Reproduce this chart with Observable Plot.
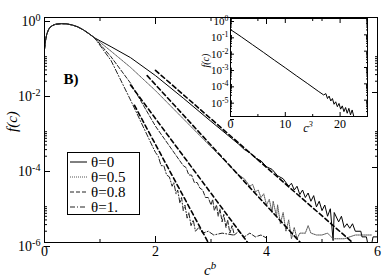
<!DOCTYPE html>
<html><head><meta charset="utf-8">
<script src="https://cdn.jsdelivr.net/npm/d3@7"></script>
<script src="https://cdn.jsdelivr.net/npm/@observablehq/plot@0.6"></script>
<style>
body{margin:0;background:#fff}
#wrap{position:relative;width:382px;height:277px}
#inset{position:absolute;left:205px;top:16px}
svg text{font-family:"Liberation Serif","DejaVu Serif",serif}
</style>
</head><body><div id="wrap"></div><div id="inset"></div>
<script>
// ---------- data (log10 f) ----------
const thetas = ["θ=0", "θ=0.5", "θ=0.8", "θ=1."];

const headC   = [0, 0.01, 0.02, 0.04, 0.07, 0.1, 0.15, 0.2, 0.3, 0.4, 0.5, 0.6, 0.7, 0.8, 0.9];
const headLog = [-0.85, -0.72, -0.6, -0.45, -0.33, -0.26, -0.21, -0.18, -0.165, -0.17, -0.2, -0.25, -0.33, -0.43, -0.54];

const c0   = [1.2, 1.55, 2.0, 2.5, 3.0, 3.5, 3.6, 3.7, 3.8, 3.9, 4.0, 4.1, 4.2, 4.3, 4.4, 4.45, 4.5, 4.55, 4.6, 4.65, 4.7, 4.75, 4.8, 4.85, 4.9, 4.95, 5.0, 5.05, 5.1, 5.15, 5.2, 5.22, 5.3, 5.35, 5.4, 5.45, 5.5, 5.55, 5.6, 5.7, 5.72, 5.8, 5.82, 5.9, 5.92, 6.0];
const log0 = [-0.78, -1.07, -1.55, -2.15, -2.77, -3.38, -3.52, -3.6, -3.75, -3.82, -3.98, -4.05, -4.22, -4.3, -4.5, -4.42, -4.6, -4.5, -4.72, -4.6, -4.8, -4.68, -4.9, -4.75, -5.05, -4.9, -5.15, -5.0, -5.3, -5.1, -5.95, -5.2, -5.45, -5.3, -5.6, -5.5, -5.62, -5.5, -5.7, -5.7, -5.85, -5.85, -6.0, -6.0, -5.85, -5.85];

const c05   = [1.2, 1.55, 2.0, 2.5, 3.0, 3.3, 3.5, 3.6, 3.7, 3.75, 3.8, 3.85, 3.9, 3.95, 4.0, 4.05, 4.1, 4.12, 4.18, 4.2, 4.25, 4.3, 4.35, 4.4, 4.45, 4.5, 4.55, 4.6, 4.7, 4.75, 4.8, 4.9, 5.0, 5.1, 5.2, 5.4, 5.6, 5.9];
const log05 = [-0.9, -1.33, -1.95, -2.7, -3.45, -3.9, -4.2, -4.3, -4.5, -4.45, -4.65, -4.6, -4.8, -4.7, -5.0, -4.85, -5.2, -4.9, -5.3, -5.0, -5.5, -5.2, -5.7, -5.4, -5.9, -5.6, -5.9, -5.75, -5.75, -5.55, -5.75, -5.8, -5.8, -5.75, -5.9, -5.9, -5.8, -5.8];

const c08   = [1.2, 1.55, 2.0, 2.5, 2.55, 2.6, 2.65, 2.7, 2.75, 2.8, 2.85, 2.9, 2.95, 3.0, 3.03, 3.06, 3.1, 3.13, 3.16, 3.2, 3.23, 3.27, 3.3, 3.34, 3.38, 3.42, 3.5, 3.6, 3.7, 3.8, 3.9, 4.0];
const log08 = [-1.05, -1.75, -2.9, -3.95, -4.0, -4.2, -4.2, -4.4, -4.4, -4.55, -4.6, -4.8, -4.8, -5.0, -4.85, -5.15, -5.0, -5.3, -5.1, -5.45, -5.25, -5.6, -5.4, -5.75, -5.55, -5.8, -5.7, -5.85, -5.75, -5.85, -5.8, -5.88];

const c1   = [1.2, 1.55, 1.95, 2.0, 2.05, 2.1, 2.15, 2.2, 2.25, 2.3, 2.33, 2.37, 2.4, 2.44, 2.47, 2.5, 2.53, 2.57, 2.6, 2.64, 2.68, 2.72, 2.78, 2.85, 2.95, 3.05, 3.2, 3.4];
const log1 = [-1.15, -2.2, -3.45, -3.6, -3.7, -3.95, -3.95, -4.2, -4.25, -4.5, -4.4, -4.7, -4.6, -4.95, -4.8, -5.15, -5.0, -5.35, -5.2, -5.55, -5.4, -5.7, -5.6, -5.75, -5.7, -5.8, -5.75, -5.8];

// dashed asymptotes: [start, end]
const asymC   = [[2.0, 5.55], [1.85, 4.61], [1.55, 3.66], [1.62, 2.95]];
const asymLog = [[-1.41, -6], [-1.55, -6], [-1.8, -6], [-2.34, -6]];

// inset
const insetC3  = [0, 1, 2, 4, 6, 8, 10, 12, 14, 16, 17, 17.4, 17.7, 18, 18.3, 18.6, 18.9, 19.2, 19.5, 19.8, 20.1, 20.4, 20.7, 21.0, 21.3, 21.6, 21.9, 22.2, 22.5];
const insetLog = [-0.68, -0.9, -1.13, -1.6, -2.07, -2.55, -3.02, -3.5, -3.97, -4.45, -4.68, -4.6, -4.9, -4.75, -5.05, -4.9, -5.25, -5.1, -5.4, -5.2, -5.55, -5.35, -5.7, -5.45, -5.8, -5.5, -5.9, -5.6, -6.0];

// ticks
const mainXMajor = [0, 2, 4, 6], mainXMinor = [1, 3, 5];
const mainYMajor = [1, 1e-2, 1e-4, 1e-6];
const mainYLabels = ["10^0", "10^-2", "10^-4", "10^-6"];
const insetXMajor = [0, 10, 20], insetXMinor = [5, 15, 25];
const insetYMajor = [1, 1e-1, 1e-2, 1e-3, 1e-4, 1e-5, 1e-6];
const insetYLabels = ["10^0", "10^-1", "10^-2", "10^-3", "10^-4", "10^-5", ""];

// ---------- build ----------
const mainYMinor = [1e-2, 1e-4, 1e-6].flatMap(p => [2,3,4,5,6,7,8,9].map(k => k * p));
const insetYMinor = [1e-1, 1e-2, 1e-3, 1e-4, 1e-5, 1e-6].flatMap(p => [2,3,4,5,6,7,8,9].map(k => k * p));

const curveC = [c0, c05, c08, c1], curveLog = [log0, log05, log08, log1];
const rows = thetas.map((t, i) => {
  const cs = headC.concat(curveC[i]), ls = headLog.concat(curveLog[i]);
  return cs.map((c, j) => ({theta: t, c, f: Math.pow(10, ls[j])}));
});
const asymRows = thetas.flatMap((t, i) => asymC[i].map((c, j) => ({theta: t, c, f: Math.pow(10, asymLog[i][j])})));
const insetRows = insetC3.map((c, j) => ({c, f: Math.pow(10, insetLog[j])}));

const lineStyles = [
  {stroke: "black", dash: null},
  {stroke: "#555", dash: "1,1"},
  {stroke: "#222", dash: "4,2"},
  {stroke: "#222", dash: "5,2,1,2"}
];
const serif = "'Liberation Serif', 'DejaVu Serif', serif";

const main = Plot.plot({
  width: 382, height: 277,
  marginLeft: 44, marginRight: 5, marginTop: 17, marginBottom: 35,
  style: {fontFamily: serif, fontSize: "14px", background: "white", color: "black", overflow: "visible"},
  x: {domain: [0, 6], label: null},
  y: {type: "log", domain: [1e-6, 1], label: null},
  marks: [
    ...rows.map((r, i) => Plot.line(r, {x: "c", y: "f", stroke: lineStyles[i].stroke, strokeWidth: 1, strokeDasharray: lineStyles[i].dash, clip: true})),
    Plot.line(asymRows, {x: "c", y: "f", z: "theta", stroke: "black", strokeWidth: 1.6, strokeDasharray: "4.5,3", clip: true}),
    Plot.frame({stroke: "black"}),
    Plot.axisX({anchor: "bottom", ticks: mainXMajor, tickSize: -6, tickPadding: 10, tickFormat: d => String(d), label: null}),
    Plot.axisX({anchor: "bottom", ticks: mainXMinor, tickSize: -3, tickFormat: () => "", label: null}),
    Plot.axisX({anchor: "top", ticks: mainXMajor, tickSize: -6, tickFormat: () => "", label: null}),
    Plot.axisX({anchor: "top", ticks: mainXMinor, tickSize: -3, tickFormat: () => "", label: null}),
    Plot.axisY({anchor: "left", ticks: mainYMajor, tickSize: -6, tickPadding: 10, dy: 4, tickFormat: d => mainYLabels[mainYMajor.indexOf(d)], label: null}),
    Plot.axisY({anchor: "left", ticks: mainYMinor, tickSize: -3, tickFormat: () => "", label: null}),
    Plot.axisY({anchor: "right", ticks: mainYMajor, tickSize: -6, tickFormat: () => "", label: null}),
    Plot.axisY({anchor: "right", ticks: mainYMinor, tickSize: -3, tickFormat: () => "", label: null}),
    Plot.text(["f(c)"], {frameAnchor: "left", dx: -32, dy: 2, rotate: -90, fontStyle: "italic", fontSize: 15, text: d => d}),
    Plot.text(["c^b"], {frameAnchor: "bottom", dy: 32, dx: -1, lineAnchor: "bottom", fontStyle: "italic", fontSize: 15, text: d => d}),
    Plot.text(["B)"], {frameAnchor: "top-left", dx: 19, dy: 66, lineAnchor: "bottom", textAnchor: "start", fontWeight: "bold", fontSize: 15, text: d => d})
  ]
});
document.getElementById("wrap").append(main);

const inset = Plot.plot({
  width: 167, height: 116,
  marginLeft: 25, marginRight: 5, marginTop: 2, marginBottom: 16,
  style: {fontFamily: serif, fontSize: "12px", background: "none", color: "black", overflow: "visible"},
  x: {domain: [0, 25], label: null},
  y: {type: "log", domain: [1e-6, 1], label: null},
  marks: [
    Plot.line(insetRows, {x: "c", y: "f", stroke: "black", strokeWidth: 1, clip: true}),
    Plot.frame({stroke: "black"}),
    Plot.axisX({anchor: "bottom", ticks: insetXMajor, tickSize: -4, tickPadding: 7, tickFormat: d => String(d), label: null}),
    Plot.axisX({anchor: "bottom", ticks: insetXMinor, tickSize: -2, tickFormat: () => "", label: null}),
    Plot.axisX({anchor: "top", ticks: insetXMajor, tickSize: -4, tickFormat: () => "", label: null}),
    Plot.axisX({anchor: "top", ticks: insetXMinor, tickSize: -2, tickFormat: () => "", label: null}),
    Plot.axisY({anchor: "left", ticks: insetYMajor, tickSize: -4, tickPadding: 6, dy: 3, fontSize: 11, tickFormat: d => insetYLabels[insetYMajor.indexOf(d)], label: null}),
    Plot.axisY({anchor: "left", ticks: insetYMinor, tickSize: -2, tickFormat: () => "", label: null}),
    Plot.axisY({anchor: "right", ticks: insetYMajor, tickSize: -4, tickFormat: () => "", label: null}),
    Plot.axisY({anchor: "right", ticks: insetYMinor, tickSize: -2, tickFormat: () => "", label: null}),
    Plot.text(["f(c)"], {frameAnchor: "left", dx: -25, rotate: -90, fontStyle: "italic", fontSize: 10, text: d => d}),
    Plot.text(["c^3"], {frameAnchor: "bottom", dx: 9, dy: 15, lineAnchor: "bottom", fontStyle: "italic", fontSize: 12, text: d => d})
  ]
});
document.getElementById("inset").append(inset);

// superscripts
function supify(svg) {
  const ns = "http://www.w3.org/2000/svg";
  svg.querySelectorAll("text").forEach(t => {
    const s = t.textContent;
    if (s.includes("^")) {
      const [base, sup] = s.split("^");
      t.textContent = "";
      const a = document.createElementNS(ns, "tspan"); a.textContent = base;
      const b = document.createElementNS(ns, "tspan"); b.textContent = sup;
      b.setAttribute("dy", "-0.5em"); b.setAttribute("font-size", "0.72em");
      t.append(a, b);
    }
  });
}
supify(main); supify(inset);

// legend
const svg = d3.select(main);
const lg = svg.append("g").attr("font-family", serif).attr("font-size", 15).attr("text-anchor", "start");
lg.append("rect").attr("x", 67.5).attr("y", 152.5).attr("width", 72).attr("height", 62)
  .attr("fill", "white").attr("stroke", "black");
thetas.forEach((t, i) => {
  const yc = 162 + i * 15;
  lg.append("line").attr("x1", 70).attr("x2", 87).attr("y1", yc).attr("y2", yc)
    .attr("stroke", lineStyles[i].stroke).attr("stroke-width", 1)
    .attr("stroke-dasharray", lineStyles[i].dash);
  lg.append("text").attr("x", 91).attr("y", yc + 5).attr("text-anchor", "start").text(t);
});
</script></body></html>
